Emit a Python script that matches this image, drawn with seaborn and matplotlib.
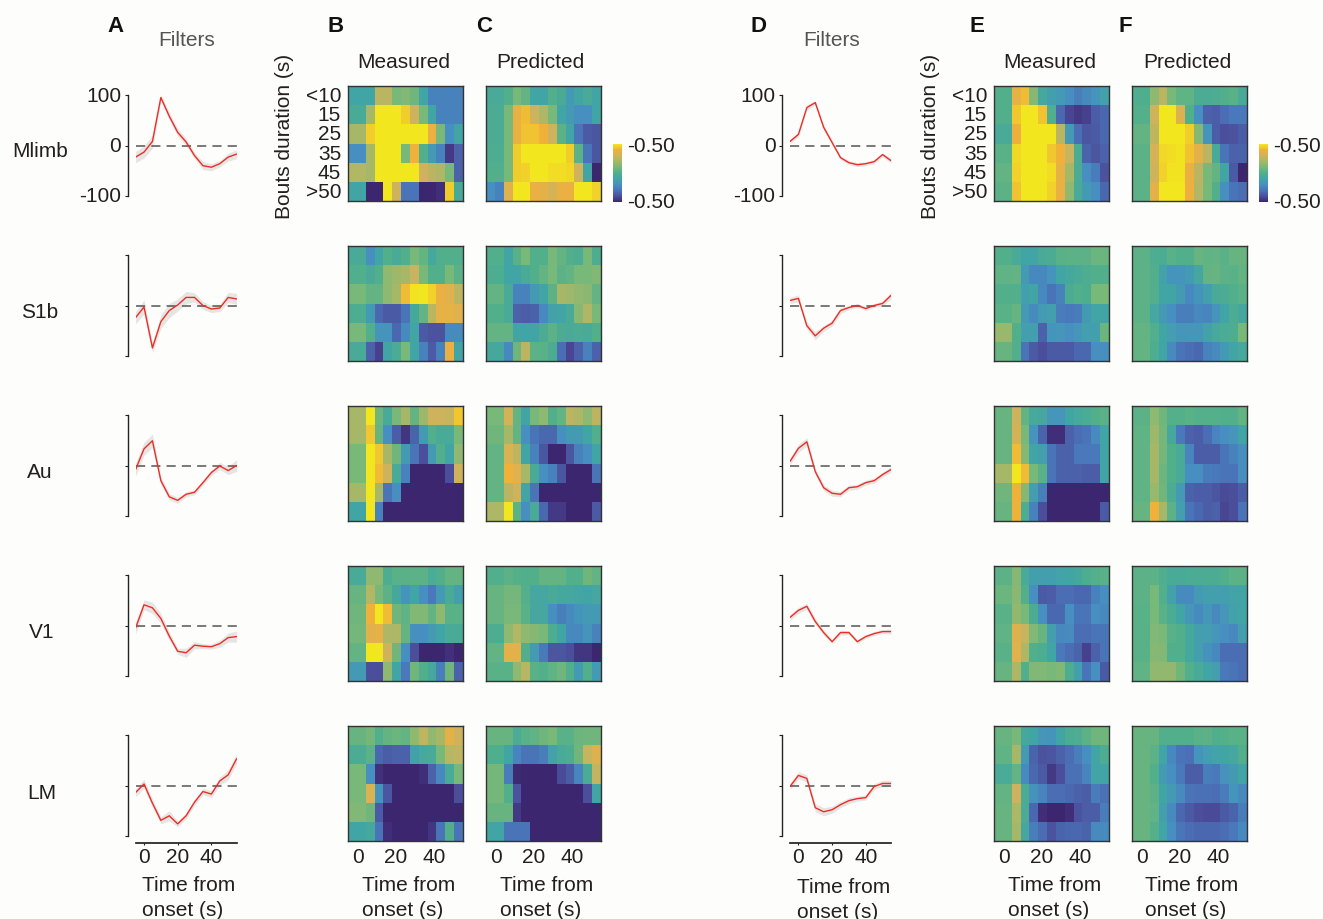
import numpy as np
import matplotlib
matplotlib.use("Agg")
import matplotlib.pyplot as plt
from matplotlib.colors import LinearSegmentedColormap
import seaborn as sns

sns.set_theme(style="white")
plt.rcParams['font.family'] = ['Liberation Sans', 'DejaVu Sans']

# ---------- data ----------
TIME = [-5, 0, 5, 10, 15, 20, 25, 30, 35, 40, 45, 50, 55]
DURATION_LABELS = ['<10', '15', '25', '35', '45', '>50']
TIME_LABELS = ['', '0', '', '', '', '20', '', '', '', '40', '', '', '']
ROW_LABELS = ['Mlimb', 'S1b', 'Au', 'V1', 'LM']

A_mlimb = [-23, -13, 8, 95, 58, 26, 7, -20, -40, -43, -36, -23, -17]
A_s1b = [-24, -3, -84, -32, -10, 1, 16, 16, 0, -7, -5, 16, 13]
A_au = [-8, 33, 49, -30, -62, -69, -57, -53, -34, -14, -1, -10, 0]
A_v1 = [-5, 41, 35, 14, -21, -51, -54, -39, -41, -42, -36, -24, -22]
A_lm = [-14, 3, -35, -69, -60, -76, -60, -33, -12, -17, 9, 21, 53]
D_mlimb = [8, 22, 75, 85, 36, 6, -24, -34, -38, -36, -32, -18, -30]
D_s1b = [10, 14, -40, -60, -45, -35, -10, -4, 0, -6, 0, 4, 20]
D_au = [8, 34, 47, -12, -44, -55, -57, -44, -42, -34, -30, -18, -8]
D_v1 = [16, 30, 38, 8, -14, -32, -14, -14, -32, -22, -16, -12, -12]
D_lm = [-2, 20, 14, -44, -52, -48, -38, -30, -26, -24, -2, 4, 4]

A_mlimb_sem = [11, 12, 13, 6, 7, 8, 7, 6, 8, 7, 6, 8, 9]
A_s1b_sem = [12, 14, 9, 14, 14, 12, 12, 9, 8, 7, 7, 10, 11]
A_au_sem = [13, 13, 13, 8, 6, 6, 5, 5, 5, 6, 7, 8, 12]
A_v1_sem = [12, 10, 11, 10, 8, 6, 9, 7, 5, 5, 7, 9, 11]
A_lm_sem = [8, 9, 8, 7, 10, 6, 6, 6, 6, 7, 8, 10, 10]
D_mlimb_sem = [4, 5, 5, 4, 5, 4, 4, 4, 4, 4, 4, 4, 5]
D_s1b_sem = [6, 7, 7, 8, 6, 6, 6, 4, 4, 4, 4, 5, 7]
D_au_sem = [7, 8, 8, 6, 6, 6, 5, 5, 5, 5, 5, 5, 6]
D_v1_sem = [6, 6, 6, 6, 5, 4, 5, 4, 4, 4, 4, 4, 5]
D_lm_sem = [6, 7, 7, 8, 8, 7, 6, 6, 5, 5, 6, 6, 6]

B_mlimb = [[-1,-1,-1,2.5,2.5,1,1.2,.8,-1,-2.5,-2.5,-2.5,-2.5],
           [-.5,-.5,2,5,5,5,4.5,3,1,-1,-2.5,-2.5,-2.5],
           [2,2,4.5,5,5,5,5,5,5,3.8,1,-2,-1],
           [-2,-2,2,5,5,5,1,4,0,-1.5,-2.5,-4.5,-3.5],
           [2.3,2.3,2,5,5,5,5,5,3,2.5,2.2,1,-3.5],
           [-1,-1,-5,-5,5,3,-3,-3,-5,-5,-4.8,4.5,-.5]]
C_mlimb = [[-.5,-.5,0,1,.5,-1,-1,0,-.5,-1.5,-1,-.5,-1],
           [-.3,-.3,1,3.8,4.2,3,2.2,1,-1,-1.5,-2,-2,-1],
           [-.3,-.3,1,3.8,4.3,4.3,4,3,.3,-1,-3,-3.7,-3.8],
           [-.2,-.2,1,4.5,5,5,5,5,5,4.5,.3,-3,-3.8],
           [0,0,1,4.5,4.6,5,5,4.8,4.8,4.7,3,-1,-5],
           [-2,-2.5,3.5,5,5,3.8,3.6,3.2,3.8,3.8,5,5,4.6]]
B_s1b = [[-.5,-.5,-2,-1,0,-.5,0,1,.5,-.7,0,0,0],
         [0,0,-.5,0,1.5,1.8,2,2.8,1,0,0,1,.2],
         [1,1,.5,.5,1.5,2,4.2,4.9,5,4.6,3.8,3.5,2.5],
         [-.2,-.2,-1.5,-3.3,-3.7,-3.7,-3,-.7,.5,2.5,3.7,3.7,3.5],
         [1,1,0,-1.8,-1.8,-3.3,-2.2,-1,-3.7,-3.9,-3.9,-2.2,-2.2],
         [-.5,-.5,-3.5,-4.3,-1,-.3,1,-1,-2.5,-3.7,-2.5,3.8,-1]]
C_s1b = [[0,0,-1,.2,1,0,0,1,.5,0,-.2,1,-.2],
         [-.2,-.2,-1,-1,-.5,0,.5,1,.3,.5,1,1,1.2],
         [.5,.5,-.5,-2.5,-2.5,-1.5,-1,.3,2,1.8,1.6,1.4,.5],
         [0,0,-.5,-3.5,-3.6,-3.5,-2.3,-1.2,-1,-.5,1.3,2.2,1],
         [.5,.5,.5,-1,-1,-1,-.3,.3,-.3,-.5,-.3,-.5,0],
         [-.7,-.7,-2.3,.8,2.5,.3,.2,-.3,-3.2,-4.2,-3.5,-2.5,-3.5]]
B_au = [[2,2,5,.8,-.5,1,2,.5,1.8,3,3,2.8,4.4],
        [2,2,4.4,.6,-2,-3.6,-4.6,-3.4,-1.5,0,-.5,-.5,1],
        [1,1,5,4.4,2,.8,-1.5,-3,-4,-1.5,0,-1,1.5],
        [1,1,5,4.2,3,-.5,-2.5,-5,-5,-5,-5,-4,3],
        [2,2,5,2,-3,-2,-5,-5,-5,-5,-5,-5,-5],
        [-1,-1,5,-2.5,-5,-5,-5,-5,-5,-5,-5,-5,-5]]
C_au = [[1,1,3.2,.5,-1,1,1.5,0,.5,2.5,2.2,1.5,2.5],
        [.8,.8,2,.5,-2,-3,-3.3,-3.3,-2,-1.5,-1.5,-1,0],
        [.5,.5,3.3,2.6,-1,-2.5,-3.8,-5,-5,-3.8,-2.5,-2,-1],
        [.5,.5,4,3.5,2,-.5,-2,-2.5,-3.8,-5,-5,-5,-3],
        [.5,.5,2.5,3,-1,-3,-5,-5,-5,-5,-5,-5,-5],
        [2.2,2.2,5,.3,-2,-.5,-3.3,-4.5,-4.5,-5,-5,-5,-3.7]]
B_v1 = [[-.5,-.5,1.5,1.5,-.2,.2,.2,.3,.3,-.4,0,.5,.5],
        [.6,.6,2.3,1,.3,-.7,-1.8,-1,-2,-2.8,-1.5,-.5,-1.3],
        [.8,.8,4,5,4.2,.8,.4,1.2,1.2,.5,1.5,.2,.2],
        [.9,.9,3.5,3.7,2.2,2.2,.5,-2,-2,-1.5,-1,-.5,-.5],
        [.5,.5,5,5,3,.8,-2,-4,-5,-5,-5,-4.7,-5],
        [-1.5,-1.5,-4,-4,1.5,-1,-2.8,.8,0,-.7,-2.6,.8,-3.5]]
C_v1 = [[0,0,.3,.1,0,0,.5,.5,.5,0,0,.8,.5],
        [.6,.6,.9,.9,.1,-.8,-.8,-.5,-.7,-.8,-.9,-1,-.8],
        [.6,.6,1,1,.2,-.8,-.8,-2,-2.6,-2.2,-1.8,-1.6,-1.5],
        [-.2,-.2,1.5,2.3,1.5,1.3,1,-.2,-1,-2.3,-2.3,-1.8,-2.5],
        [.5,.5,3.6,3.6,0,-1.5,-2.8,-3.8,-3.8,-4,-4.6,-4.6,-5],
        [.2,.2,.2,1.5,2.4,.2,0,.4,.8,0,-1.5,0,-1.5]]
B_lm = [[.6,.6,.9,0,.5,.7,.5,1.5,2.6,1.6,2,3.6,3],
        [-.3,-.3,.3,-3.3,-3.6,-3.5,-3.5,-1.2,-.6,-.5,1,2.4,2.6],
        [1,1,-2,-4.7,-5,-5,-5,-5,-4.8,-3.5,-2.3,-.5,1],
        [1,1,3.3,-1.8,-3.8,-5,-5,-5,-5,-5,-5,-5,-4],
        [1.2,1.2,.8,-3.7,-5,-5,-5,-5,-5,-5,-5,-5,-5],
        [-1,-1,-.7,-3,-4.8,-5,-5,-5,-5,-4.6,-3,0,-3]]
C_lm = [[.6,.6,.6,-.3,.2,.4,.8,1,.2,.2,.7,.8,.8],
        [-.1,-.1,-1,-2.4,-3,-3,-2.6,-1.2,-.5,-.2,.8,2.8,3.4],
        [.9,.9,-2.7,-4.9,-5,-5,-5,-5,-4.1,-3.6,-2.4,-.3,2.7],
        [.9,.9,0,-3.9,-5,-5,-5,-5,-5,-5,-5,-4,-1],
        [.6,.6,.6,-4.5,-5,-5,-5,-5,-5,-5,-5,-5,-5],
        [-1,-1,-3,-3,-3,-5,-5,-5,-5,-5,-5,-5,-5]]
E_mlimb = [[0,0,3.7,4.2,1.3,-.7,-1.3,-1.6,-2,-2.6,-2.2,-1.8,-1.2],
           [0,0,4.4,5,5,4.3,0,-3.3,-4.2,-4.5,-4.3,-3.6,-3.3],
           [-.5,-.5,3.9,5,5,5,5,2.5,-1.5,-3.2,-3.8,-3.7,-3.3],
           [.2,.2,4.7,5,5,5,4.4,4,2.8,-.3,-3.4,-3.8,-3.5],
           [.5,.5,4.6,5,5,5,4.8,3.7,2,-.3,-2,-2.7,-3.9],
           [.3,.3,4.3,5,5,5,4.6,3.8,1.5,-.5,-1.5,-2,-3.3]]
F_mlimb = [[-.1,-.1,1.5,2.5,1,.4,.4,-.3,-.3,-.2,0,.2,-.5],
           [.1,.1,3,5,5,3.4,0,-2,-3.5,-3.6,-3.2,-2.8,-2.8],
           [.5,.5,2.6,5,5,5,4.5,1.3,-1.8,-3.6,-4,-3.9,-3.6],
           [.3,.3,3.2,4.7,4.8,4.9,4.3,3.6,2.5,-.5,-3,-3.5,-3.4],
           [.3,.3,3,4.6,4.9,4.9,3.8,2.5,1,.5,-1,-3.7,-5],
           [.3,.3,3.6,5,5,5,3.9,2.3,1,0,-2,-3,-3.2]]
E_s1b = [[0,0,-.5,-1,-1,-.5,-.3,.2,.3,.3,.3,.7,.7],
         [.4,.4,.5,-1.5,-2.3,-2.3,-1.8,-1,-.7,-.5,-.2,0,0],
         [0,0,0,-1.3,-1,-2.3,-3,-2.5,-.3,0,-.2,1,1],
         [.2,.2,.6,-1.5,-2.2,-1.5,-1.3,-2.7,-2.8,-2.7,-1.5,-1,-1],
         [1.7,1.7,0,-1.3,-1.3,-3.5,-1.8,-1.7,-2,-1.7,-1.3,-1.3,.7],
         [.6,.6,0,-3,-3.7,-4,-3.7,-3.7,-3.7,-3.3,-3.3,-2,-2]]
F_s1b = [[.3,.3,-.2,-.3,.2,0,0,.6,.4,.5,.2,.6,.6],
         [.3,.3,0,-1.2,-1.8,-1.8,-1.5,-.8,.5,.6,.3,.2,.5],
         [.3,.3,0,-1,-1,-1.5,-2.3,-1.8,-1.3,-.5,-.3,0,.2],
         [.3,.3,-.8,-1.5,-2,-2.6,-2.6,-2.3,-2.4,-1.8,-1,-.3,-.8],
         [.5,.5,0,-1,-1.4,-1.7,-1.7,-1.7,-1.2,-.6,-.4,-.2,1],
         [.5,.5,-.2,-1,-2.2,-3,-3.2,-3.3,-2.5,-2.2,-1.5,-1,-.6]]
E_au = [[.6,.6,3,.5,-.6,-.8,-1.7,-1.7,-1,-.6,-.4,0,.3],
        [.6,.6,3.2,1,-1.8,-3.4,-4.8,-4.8,-3.5,-3.2,-3,-2.2,-1],
        [.6,.6,4.2,1.3,-1,-1.3,-3,-3.5,-3.5,-2.8,-2.8,-2.8,-1],
        [2,2,5,4.2,1,.2,-3,-3.5,-3.5,-3.5,-3.6,-3.6,-1],
        [.8,.8,4,1.3,-1.3,-2.6,-5,-5,-5,-5,-5,-5,-5],
        [.6,.6,4,-.2,-2.5,-4,-5,-5,-5,-5,-5,-5,-3.7]]
F_au = [[.3,.3,1.5,.8,.1,.1,.2,.1,.1,.1,0,0,.5],
        [.4,.4,1.8,.9,-.7,-2.8,-3.5,-3.6,-3.2,-2.4,-2,-1.7,-1],
        [.4,.4,2,.9,0,-.5,-2.4,-3.6,-3.6,-3.6,-3,-2.5,-2],
        [.4,.4,2,.7,0,-.5,-2,-2,-2.7,-2.8,-3,-3,-2],
        [.4,.4,1.7,.8,-.3,-1.5,-3.5,-3.6,-3.6,-3.8,-4.1,-4,-3.6],
        [.6,.6,4,2,.3,-1.3,-3,-3.3,-3.6,-3.5,-4.2,-4,-3]]
E_v1 = [[.3,.3,1.3,-.5,-1.3,-1.3,-1.3,-1.1,-1,-.7,-.2,.1,.2],
        [.7,.7,1.4,0,-2,-3.7,-3.6,-3.2,-3.2,-3.3,-3.3,-2.5,-2],
        [.2,.2,1.6,1,-.3,-2,-3.3,-3.3,-2,-3,-3,-2,-2.3],
        [.4,.4,3.4,2.8,1.2,.6,-1.3,-2.3,-2.2,-3.2,-3.2,-3,-3],
        [.2,.2,3.5,2.2,0,-.2,-1,-2.8,-3.2,-3.4,-4.3,-3.5,-3],
        [.6,.6,2.2,0,1.2,1.2,1,1.2,-.2,-1.3,-3,-2,-3.7]]
F_v1 = [[.3,.3,.3,-.1,-.5,-.5,-.4,-.3,-.3,-.3,0,.3,.3],
        [.3,.3,1,0,-1.2,-2.2,-2.2,-1.5,-1.3,-1.3,-1.3,-1.1,-1],
        [.2,.2,1,.2,-.3,-1,-1.7,-2.2,-1.7,-2.3,-1.7,-1.2,-1],
        [.2,.2,1.2,1,.2,0,-.7,-1.3,-1.4,-1.7,-2,-2.3,-1.3],
        [.2,.2,1.3,1.2,0,0,-.7,-1.3,-1.9,-2.3,-3.2,-3.2,-3.2],
        [.4,.4,1.6,1.6,1.6,.8,0,-.5,-1,-1.3,-2.8,-3,-3.2]]
E_lm = [[.6,.6,1,-.7,-1,-1.7,-1.8,-1,-.3,-.2,.3,.8,.8],
        [.4,.4,2,-1.5,-3.4,-3.9,-3.8,-3.5,-3.2,-2.6,-2,-1,-.2],
        [-.4,-.4,.5,-2.2,-3.3,-3.7,-4.5,-4,-3.1,-3.1,-2.4,-1,-1],
        [.5,.5,3,-.3,-1.9,-2.4,-3.2,-3.2,-3.3,-3.5,-3.6,-2.7,-3.1],
        [.6,.6,2.2,-.3,-3.3,-4.8,-5,-5,-4.8,-3.9,-3.6,-3.6,-2.7],
        [.6,.6,2,-.8,-2.6,-3.2,-3.9,-3.4,-3.3,-3.3,-3.4,-2.2,-2.2]]
F_lm = [[.6,.6,.6,0,0,0,0,.2,.3,-.1,.1,.2,.2],
        [.6,.6,.3,-1,-2.3,-3,-3.1,-1.8,-1.4,-1.1,-1,-.8,0],
        [.6,.6,0,-1.5,-2,-2.8,-3.6,-3.6,-2.6,-2.8,-1.9,-1.5,-1],
        [.6,.6,.3,-1,-1.6,-2.2,-3,-3.1,-3.1,-3.2,-2.7,-1.8,-2.3],
        [.6,.6,.4,-1.3,-2.2,-3.3,-3.7,-4,-4.1,-4.1,-3.7,-3.4,-2.7],
        [.6,.6,.1,-1,-2,-2.9,-3.2,-3.3,-3.3,-3.3,-3.2,-2.8,-2.3]]

# ---------- layout ----------
W, H = 1323, 920
BG = '#fdfdfb'
INK = '#231f20'
FS = 15
fig = plt.figure(figsize=(W / 100, H / 100), dpi=100, facecolor=BG)


def px_axes(x0, y0, x1, y1):
    ax = fig.add_axes([x0 / W, 1 - y1 / H, (x1 - x0) / W, (y1 - y0) / H])
    ax.set_facecolor('none')
    return ax


def label(x, y, s, **kw):
    kw.setdefault('fontsize', FS)
    kw.setdefault('color', INK)
    fig.text(x / W, 1 - y / H, s, ha=kw.pop('ha', 'center'), va='center', **kw)


cmap = LinearSegmentedColormap.from_list('parula_like', [
    '#3d2670', '#4b4f9c', '#4a74b8', '#4690c0', '#42a5a5', '#50af8c',
    '#78b878', '#a5b868', '#cfb35c', '#f0b03c', '#f2e71e'])

ROW_TOPS = [87, 247, 407, 567, 727]
LINE_TOPS = [96, 256, 416, 576, 736]


def draw_trace(x0, top, vals, sem, first, last):
    ax = px_axes(x0, top, x0 + 101, top + 101)
    v, s = np.array(vals, float), np.array(sem, float)
    ax.fill_between(TIME, v - s, v + s, color='#d9d9d9', alpha=.65, lw=0)
    ax.axhline(0, color='#555555', lw=1.1, dashes=(6, 4))
    sns.lineplot(x=TIME, y=vals, ax=ax, color='#ee2c24', lw=1.0, errorbar=None)
    ax.set_xlim(-5, 55)
    ax.set_ylim(-100, 100)
    sns.despine(ax=ax, bottom=not last)
    ax.spines['left'].set_position(('outward', 5.5))
    ax.spines['left'].set_color('#222222')
    ax.spines['left'].set_linewidth(1.0)
    ax.set_yticks([-100, 0, 100])
    ax.set_yticklabels(['-100', '0', '100'] if first else ['', '', ''], fontsize=FS, color=INK)
    ax.tick_params(axis='y', left=True, length=2.5, width=.8, pad=2.5, color='#222222')
    for t in ax.get_yticklabels():
        t.set_y(t.get_position()[1])
        t.set_verticalalignment('center')
    if last:
        ax.spines['bottom'].set_position(('outward', 5))
        ax.spines['bottom'].set_color('#222222')
        ax.set_xticks([0, 20, 40])
        ax.set_xticklabels(['0', '20', '40'], fontsize=FS, color=INK)
        ax.tick_params(axis='x', bottom=True, length=1.5, width=.8, pad=1.5, color='#222222')
    else:
        ax.set_xticks([])
    ax.set_xlabel('')
    ax.set_ylabel('')


def draw_heat(x0, top, mat, first, last, cbar_ax=None):
    ax = px_axes(x0, top, x0 + 115, top + 115)
    sns.heatmap(np.array(mat), ax=ax, cmap=cmap, vmin=-5, vmax=5,
                cbar=cbar_ax is not None, cbar_ax=cbar_ax, square=False,
                xticklabels=TIME_LABELS, yticklabels=DURATION_LABELS if first else False)
    for sp in ax.spines.values():
        sp.set_visible(True)
        sp.set_color('#333333')
        sp.set_linewidth(1.0)
    ax.tick_params(axis='y', left=True, right=True, direction='in', length=2, width=.7,
                   labelrotation=0, labelsize=FS, labelcolor=INK, pad=5, color='#333333')
    if last:
        ax.set_xticks([1.15, 5.42, 9.7])
        ax.set_xticklabels(['0', '20', '40'], rotation=0, fontsize=FS, color=INK)
        ax.tick_params(axis='x', bottom=True, top=True, direction='in', length=2, width=.7,
                       pad=4, color='#333333')
    else:
        ax.set_xticks([])
    if cbar_ax is not None:
        cb = ax.collections[0].colorbar
        cb.set_ticks([-4.5, 5])
        cb.set_ticklabels(['-0.50', '-0.50'])
        cb.ax.tick_params(length=0, labelsize=FS, labelcolor=INK, pad=4)
        cb.outline.set_visible(False)


left_traces = [A_mlimb, A_s1b, A_au, A_v1, A_lm]
left_sem = [A_mlimb_sem, A_s1b_sem, A_au_sem, A_v1_sem, A_lm_sem]
right_traces = [D_mlimb, D_s1b, D_au, D_v1, D_lm]
right_sem = [D_mlimb_sem, D_s1b_sem, D_au_sem, D_v1_sem, D_lm_sem]
heat_b = [B_mlimb, B_s1b, B_au, B_v1, B_lm]
heat_c = [C_mlimb, C_s1b, C_au, C_v1, C_lm]
heat_e = [E_mlimb, E_s1b, E_au, E_v1, E_lm]
heat_f = [F_mlimb, F_s1b, F_au, F_v1, F_lm]

for i in range(5):
    first, last = i == 0, i == 4
    draw_trace(135.6, LINE_TOPS[i], left_traces[i], left_sem[i], first, last)
    draw_trace(790, LINE_TOPS[i], right_traces[i], right_sem[i], first, last)
    draw_heat(348, ROW_TOPS[i], heat_b[i], first, last)
    draw_heat(994, ROW_TOPS[i], heat_e[i], first, last)
    cb1 = px_axes(613, 145, 622, 203) if first else None
    cb2 = px_axes(1259, 145, 1268, 203) if first else None
    draw_heat(486, ROW_TOPS[i], heat_c[i], False, last, cb1)
    draw_heat(1132, ROW_TOPS[i], heat_f[i], False, last, cb2)

# ---------- text ----------
for s, x in zip('ABCDEF', [116, 336, 484, 759, 977, 1125]):
    label(x, 27, s, fontweight='bold', fontsize=16, color='#111111')
for x in (187, 832):
    label(x, 41, 'Filters', color='#555555')
for x, s in [(404, 'Measured'), (540, 'Predicted'), (1050, 'Measured'), (1187, 'Predicted')]:
    label(x, 63, s)
for x in (284, 930):
    label(x, 136, 'Bouts duration (s)', rotation=90)
for x, y, s in zip([40, 40, 40, 42, 42], [152, 313, 473, 633, 794], ROW_LABELS):
    label(x, y, s)
for x, dy in [(189, 0), (409, 0), (547, 0), (844, 1.5), (1055, 0), (1192, 0)]:
    label(x, 886 + dy, 'Time from')
    label(x - 6, 911 + dy, 'onset (s)')

fig.savefig('out.png', dpi=100, facecolor=BG)
